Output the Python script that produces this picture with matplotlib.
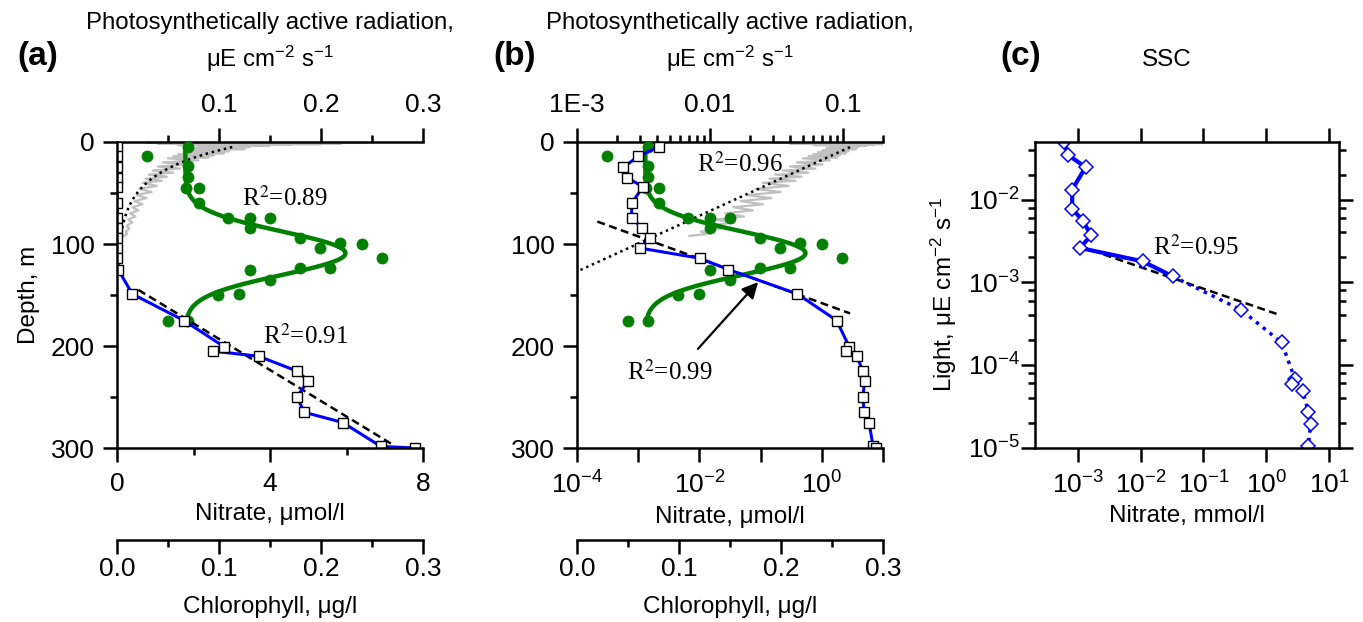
import numpy as np
import matplotlib
matplotlib.use('Agg')
import matplotlib.pyplot as plt
from matplotlib.ticker import LogLocator, NullFormatter

plt.rcParams['font.family'] = ['Liberation Sans', 'DejaVu Sans']
plt.rcParams['mathtext.fontset'] = 'custom'
plt.rcParams['mathtext.rm'] = 'Liberation Sans'
plt.rcParams['mathtext.it'] = 'Liberation Sans:italic'
plt.rcParams['mathtext.bf'] = 'Liberation Sans:bold'
plt.rcParams['axes.linewidth'] = 1.8

# --- PAR profile (measured, grey) and exponential fit (dotted) ---
par_depth = [0.3, 0.6, 0.9, 1.2, 1.5, 1.8, 2.1, 2.4, 2.7, 3.0, 3.5, 4.0, 5, 6, 7, 8, 9, 10,
             11, 12, 13, 14, 15, 16, 18, 20, 22, 24, 26, 28, 30, 32, 34, 36, 38, 40, 43,
             46, 49, 52, 55, 58, 61, 64, 67, 70, 73, 76, 79, 82, 85, 88, 90, 92]
par_val = [0.25, 0.03, 0.24, 0.05, 0.22, 0.04, 0.20, 0.07, 0.17, 0.06, 0.15, 0.08, 0.13,
           0.075, 0.125, 0.07, 0.11, 0.065, 0.105, 0.06, 0.095, 0.055, 0.09, 0.05, 0.08,
           0.045, 0.07, 0.04, 0.062, 0.035, 0.055, 0.031, 0.049, 0.028, 0.044, 0.025,
           0.039, 0.022, 0.034, 0.019, 0.029, 0.017, 0.025, 0.015, 0.021, 0.013, 0.018,
           0.011, 0.015, 0.0095, 0.012, 0.0085, 0.010, 0.007]
par_fit_depth = [5, 127]
par_fit_val = [0.113, 0.001]

# --- chlorophyll (green dots) and gaussian fit ---
chl_depth = [5, 14, 24, 34, 45, 45, 60, 75, 75, 75, 84, 94, 99, 100, 104, 114, 124, 124,
             125, 135, 149, 150, 175, 175]
chl_val = [0.070, 0.029, 0.070, 0.070, 0.068, 0.080, 0.080, 0.109, 0.130, 0.150, 0.130,
           0.179, 0.219, 0.240, 0.199, 0.260, 0.179, 0.209, 0.130, 0.150, 0.120, 0.099,
           0.050, 0.070]
chl_fit_base, chl_fit_amp, chl_fit_z0, chl_fit_w = 0.067, 0.157, 109, 30
chl_fit_range = [5, 177]

# --- nitrate, umol/l ---
no3_depth = [4.6, 14, 25, 35, 44, 60, 75, 84, 94, 104, 114, 125, 149, 175, 200.7, 205, 210,
             224.5, 234, 250, 265, 275, 298.5, 300]
no3_val = [0.0022, 0.0010, 0.00057, 0.00066, 0.0012, 0.00078, 0.00078, 0.00117, 0.00156,
           0.00107, 0.0102, 0.0297, 0.40, 1.75, 2.8, 2.5, 3.7, 4.7, 5.0, 4.7, 4.9, 5.9,
           6.9, 7.8]
no3_lin_fit_depth = [145, 297]
no3_lin_fit_val = [0.56, 7.22]
no3_log_fit_depth = [78, 168]
no3_log_fit_val = [0.000215, 2.89]

# --- SSC panel: nitrate (mmol/l) vs light ---
ssc_no3 = [6.05e-4, 7.1e-4, 1.34e-3, 8.2e-4, 8.2e-4, 1.21e-3, 1.64e-3, 1.09e-3, 0.0108,
           0.0324, 0.394, 1.75, 2.85, 2.52, 3.78, 4.64, 5.06, 4.64]
ssc_light = [0.0495, 0.0344, 0.0246, 0.0132, 0.0077, 0.00556, 0.00369, 0.0026, 0.00179,
             0.00118, 4.65e-4, 1.87e-4, 6.76e-5, 5.87e-5, 4.9e-5, 2.72e-5, 1.93e-5, 1.05e-5]
ssc_solid_n = 10
ssc_fit_no3 = [1.09e-3, 1.45]
ssc_fit_light = [2.72e-3, 4.15e-4]

W, H = 1363, 622
fig = plt.figure(figsize=(W / 100, H / 100), dpi=100)

LAB = 17.5
TCK = 19
GREEN = '#008000'
BLUE = '#0000ff'


def style_ticks(a):
    a.tick_params(which='major', length=10, width=1.8, direction='out', labelsize=TCK)
    a.tick_params(which='minor', length=5, width=1.8, direction='out')


def depth_panel(left, log):
    ax = fig.add_axes([left / W, (H - 448) / H, 306 / W, 306 / H])
    ax_par = ax.twiny()
    ax_chl = ax.twiny()
    ax_par.set_zorder(1)
    ax_chl.set_zorder(2)
    ax.set_zorder(3)
    ax.patch.set_visible(False)

    # PAR
    zz = np.linspace(par_fit_depth[0], par_fit_depth[1], 100)
    pfit = np.exp(np.interp(zz, par_fit_depth, np.log(par_fit_val)))
    ax_par.plot(par_val, par_depth, color='#c0c0c0', lw=1.6)
    ax_par.plot(pfit, zz, color='k', lw=1.8, linestyle=(0, (1, 1.5)))

    # chlorophyll
    zc = np.linspace(chl_fit_range[0], chl_fit_range[1], 150)
    cfit = chl_fit_base + chl_fit_amp * np.exp(-((zc - chl_fit_z0) / chl_fit_w) ** 2)
    ax_chl.plot(cfit, zc, color=GREEN, lw=3.2)
    ax_chl.plot(chl_val, chl_depth, 'o', color=GREEN, ms=8, mew=0.5)

    # nitrate
    if log:
        ax.plot(no3_log_fit_val, no3_log_fit_depth, color='k', lw=1.8, linestyle=(0, (3.2, 1.8)))
    else:
        ax.plot(no3_lin_fit_val, no3_lin_fit_depth, color='k', lw=1.8, linestyle=(0, (3.2, 1.8)))
    ax.plot(no3_val, no3_depth, '-', color=BLUE, lw=2.2)
    ax.plot(no3_val, no3_depth, 's', ms=7, mfc='white', mec='black', mew=1)

    ax.set_ylim(300, 0)
    ax.set_yticks([0, 100, 200, 300])
    ax.set_yticks([50, 150, 250], minor=True)
    if log:
        ax.set_xscale('log')
        ax.set_xlim(1e-4, 10)
        ax.set_xticks([1e-4, 1e-3, 1e-2, 1e-1, 1e0, 1e1],
                      ['$10^{-4}$', '', '$10^{-2}$', '', '$10^{0}$', ''])
        ax.xaxis.set_minor_locator(LogLocator(base=10, subs=range(2, 10)))
        ax.xaxis.set_minor_formatter(NullFormatter())
        ax_par.set_xscale('log')
        ax_par.set_xlim(1e-3, 0.2)
        ax_par.set_xticks([1e-3, 1e-2, 1e-1], ['1E-3', '0.01', '0.1'])
        ax_par.xaxis.set_minor_locator(LogLocator(base=10, subs=range(2, 10)))
        ax_par.xaxis.set_minor_formatter(NullFormatter())
    else:
        ax.set_xlim(0, 8)
        ax.set_xticks([0, 4, 8])
        ax.set_xticks([2, 6], minor=True)
        ax_par.set_xlim(0, 0.3)
        ax_par.set_xticks([0.1, 0.2, 0.3], ['0.1', '0.2', '0.3'])
        ax_par.set_xticks([0.05, 0.15, 0.25], minor=True)
    ax_chl.set_xlim(0, 0.3)
    ax_chl.set_xticks([0, 0.1, 0.2, 0.3], ['0.0', '0.1', '0.2', '0.3'])
    ax_chl.set_xticks([0.05, 0.15, 0.25], minor=True)

    for a in (ax, ax_par, ax_chl):
        style_ticks(a)
    ax.spines['top'].set_visible(False)
    ax.spines['right'].set_visible(False)
    ax.tick_params(axis='x', pad=7)
    ax.tick_params(axis='y', pad=6)
    for s in ('left', 'right', 'bottom'):
        ax_par.spines[s].set_visible(False)
    ax_par.tick_params(axis='x', pad=8)
    for s in ('left', 'right', 'top'):
        ax_chl.spines[s].set_visible(False)
    ax_chl.xaxis.set_ticks_position('bottom')
    ax_chl.xaxis.set_label_position('bottom')
    ax_chl.spines['bottom'].set_position(('axes', -92 / 306))
    ax_chl.tick_params(axis='x', pad=2)

    ax.set_xlabel('Nitrate, μmol/l', fontsize=LAB, labelpad=5)
    ax_chl.set_xlabel('Chlorophyll, μg/l', fontsize=LAB, labelpad=11)
    ax_par.set_xlabel('Photosynthetically active radiation,\nμE cm$^{-2}$ s$^{-1}$',
                      fontsize=17.3, labelpad=19, linespacing=1.4)
    return ax


RFONT = dict(fontfamily='Liberation Serif', fontsize=18, math_fontfamily='stix')

ax_a = depth_panel(117, log=False)
ax_a.set_ylabel('Depth, m', fontsize=LAB, labelpad=8)
ax_a.text(0.408, 0.817, 'R$^2$=0.89', transform=ax_a.transAxes, ha='left', va='center', **RFONT)
ax_a.text(0.477, 0.363, 'R$^2$=0.91', transform=ax_a.transAxes, ha='left', va='center', **RFONT)

ax_b = depth_panel(577, log=True)
ax_b.text(0.392, 0.925, 'R$^2$=0.96', transform=ax_b.transAxes, ha='left', va='center', **RFONT)
ax_b.text(0.163, 0.248, 'R$^2$=0.99', transform=ax_b.transAxes, ha='left', va='center', **RFONT)
ax_b.annotate('', xy=(0.598, 0.549), xytext=(0.389, 0.317), xycoords='axes fraction',
              arrowprops=dict(arrowstyle='-|>', color='k', lw=1.6, mutation_scale=24))

# --- panel c ---
ax_c = fig.add_axes([1035 / W, (H - 447.7) / H, 304 / W, 306 / H])
ax_c.set_xscale('log')
ax_c.set_yscale('log')
ax_c.plot(ssc_fit_no3, ssc_fit_light, color='k', lw=1.8, linestyle=(0, (3.2, 1.8)))
ax_c.plot(ssc_no3[:ssc_solid_n], ssc_light[:ssc_solid_n], '-', color=BLUE, lw=3)
ax_c.plot(ssc_no3[ssc_solid_n - 1:], ssc_light[ssc_solid_n - 1:], color=BLUE, lw=2.5,
          linestyle=(0, (1, 1.5)))
ax_c.plot(ssc_no3, ssc_light, 'D', ms=7, mfc='white', mec=BLUE, mew=1.1)
ax_c.set_xlim(2.1e-4, 14.3)
ax_c.set_ylim(1e-5, 0.05)
ax_c.set_xticks([1e-3, 1e-2, 1e-1, 1e0, 1e1],
                ['$10^{-3}$', '$10^{-2}$', '$10^{-1}$', '$10^{0}$', '$10^{1}$'])
ax_c.set_yticks([1e-5, 1e-4, 1e-3, 1e-2],
                ['$10^{-5}$', '$10^{-4}$', '$10^{-3}$', '$10^{-2}$'])
ax_c.xaxis.set_minor_locator(LogLocator(base=10, subs=range(2, 10)))
ax_c.yaxis.set_minor_locator(LogLocator(base=10, subs=(2, 4, 6, 8)))
ax_c.xaxis.set_minor_formatter(NullFormatter())
ax_c.yaxis.set_minor_formatter(NullFormatter())
style_ticks(ax_c)
ax_c.tick_params(which='both', top=True, right=True)
ax_c.tick_params(axis='x', pad=7)
ax_c.tick_params(axis='y', pad=1)
ax_c.set_xlabel('Nitrate, mmol/l', fontsize=LAB, labelpad=5)
ax_c.set_ylabel('Light, μE cm$^{-2}$ s$^{-1}$', fontsize=LAB, labelpad=6)
ax_c.text(0.388, 0.653, 'R$^2$=0.95', transform=ax_c.transAxes, ha='left', va='center', **RFONT)

# panel letters and title
for x, s in ((38, '(a)'), (515, '(b)'), (1021, '(c)')):
    fig.text(x / W, 1 - 56 / H, s, ha='center', va='center', fontsize=24, fontweight='bold')
fig.text(1167 / W, 1 - 60 / H, 'SSC', ha='center', va='center', fontsize=LAB)

fig.savefig('out.png', dpi=100)
